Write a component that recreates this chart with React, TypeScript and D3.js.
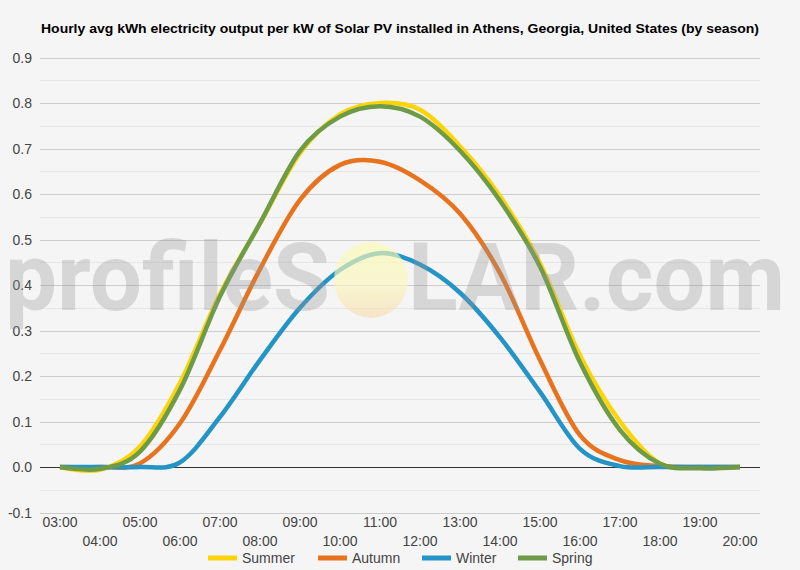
import React, { FC, useEffect, useRef } from 'react';
import { select, scalePoint, scaleLinear, line, curveCatmullRom, range } from 'd3';

const hours = [
  '03:00', '04:00', '05:00', '06:00', '07:00', '08:00', '09:00', '10:00', '11:00',
  '12:00', '13:00', '14:00', '15:00', '16:00', '17:00', '18:00', '19:00', '20:00'
];

const summer = [0, -0.006, 0.045, 0.185, 0.38, 0.535, 0.69, 0.775, 0.8, 0.785, 0.705, 0.595, 0.448, 0.245, 0.1, 0.008, 0, 0];
const autumn = [0, 0, 0.008, 0.096, 0.257, 0.435, 0.587, 0.664, 0.671, 0.63, 0.557, 0.426, 0.235, 0.07, 0.015, 0.002, 0, 0];
const winter = [0, 0, 0, 0.01, 0.11, 0.235, 0.35, 0.433, 0.47, 0.445, 0.383, 0.285, 0.165, 0.04, 0.002, 0, 0, 0];
const spring = [0, -0.004, 0.034, 0.17, 0.375, 0.536, 0.695, 0.77, 0.793, 0.77, 0.695, 0.585, 0.44, 0.23, 0.081, 0.007, -0.003, 0];

const seriesNames = ['Summer', 'Autumn', 'Winter', 'Spring'];
const seriesValues = [summer, autumn, winter, spring];
const seriesColors = ['#fdd408', '#e8731f', '#2494c6', '#6d9b48'];

const yTicks = [-0.1, 0, 0.1, 0.2, 0.3, 0.4, 0.5, 0.6, 0.7, 0.8, 0.9];

const title =
  'Hourly avg kWh electricity output per kW of Solar PV installed in Athens, Georgia, United States (by season)';

const width = 800;
const height = 570;
const font = 'Arial, "Liberation Sans", sans-serif';
const markFont = 'Roboto, "Liberation Sans", sans-serif';

const Chart: FC = () => {
  const ref = useRef<SVGSVGElement>(null);

  useEffect(() => {
    const svg = select(ref.current);
    svg.selectAll('*').remove();

    const margin = { top: 57.5, right: 40, bottom: 57.5, left: 40 };

    const x = scalePoint<string>()
      .domain(hours)
      .range([margin.left, width - margin.right])
      .padding(0.5);

    const y = scaleLinear()
      .domain([-0.1, 0.9])
      .range([height - margin.bottom, margin.top]);

    svg.append('rect').attr('width', width).attr('height', height).attr('fill', '#f5f5f5');

    // title
    svg
      .append('text')
      .attr('x', 41)
      .attr('y', 33)
      .attr('font-family', font)
      .attr('font-size', 13)
      .attr('font-weight', 'bold')
      .attr('fill', '#000')
      .attr('textLength', 718)
      .attr('lengthAdjust', 'spacingAndGlyphs')
      .text(title);

    // gridlines: minor every 0.05, major every 0.1
    const minor = range(-0.05, 0.9, 0.1);
    svg
      .append('g')
      .selectAll('line')
      .data(minor)
      .enter()
      .append('line')
      .attr('x1', margin.left)
      .attr('x2', width - margin.right)
      .attr('y1', (d) => Math.round(y(d)) + 0.5)
      .attr('y2', (d) => Math.round(y(d)) + 0.5)
      .attr('stroke', '#e6e6e6');

    svg
      .append('g')
      .selectAll('line')
      .data(yTicks.filter((d) => d !== 0))
      .enter()
      .append('line')
      .attr('x1', margin.left)
      .attr('x2', width - margin.right)
      .attr('y1', (d) => Math.round(y(d)) + 0.5)
      .attr('y2', (d) => Math.round(y(d)) + 0.5)
      .attr('stroke', '#cccccc');

    svg
      .append('line')
      .attr('x1', margin.left)
      .attr('x2', width - margin.right)
      .attr('y1', Math.round(y(0)) + 0.5)
      .attr('y2', Math.round(y(0)) + 0.5)
      .attr('stroke', '#333');

    // y labels
    svg
      .append('g')
      .selectAll('text')
      .data(yTicks)
      .enter()
      .append('text')
      .attr('x', 32)
      .attr('y', (d) => y(d) + 5)
      .attr('text-anchor', 'end')
      .attr('font-family', font)
      .attr('font-size', 14)
      .attr('fill', '#444')
      .text((d) => d.toFixed(1));

    // x labels, staggered on two rows
    svg
      .append('g')
      .selectAll('text')
      .data(hours)
      .enter()
      .append('text')
      .attr('x', (d) => x(d) as number)
      .attr('y', (d, i) => (i % 2 === 0 ? 527 : 546))
      .attr('text-anchor', 'middle')
      .attr('font-family', font)
      .attr('font-size', 14)
      .attr('fill', '#444')
      .text((d) => d);

    // series
    const path = line<number>()
      .x((d, i) => x(hours[i]) as number)
      .y((d) => y(d))
      .curve(curveCatmullRom.alpha(0));

    svg
      .append('g')
      .selectAll('path')
      .data(seriesValues)
      .enter()
      .append('path')
      .attr('d', (d) => path(d))
      .attr('fill', 'none')
      .attr('stroke', (d, i) => seriesColors[i])
      .attr('stroke-width', 4.5)
      .attr('stroke-linejoin', 'round');

    // watermark on top of the lines
    const defs = svg.append('defs');
    const grad = defs
      .append('linearGradient')
      .attr('id', 'sun')
      .attr('x1', 0)
      .attr('y1', 0)
      .attr('x2', 0)
      .attr('y2', 1);
    grad.append('stop').attr('offset', '0%').attr('stop-color', '#fbfbb0');
    grad.append('stop').attr('offset', '55%').attr('stop-color', '#fbf6bc');
    grad.append('stop').attr('offset', '100%').attr('stop-color', '#f7dbb0');

    const mark = svg.append('g').attr('pointer-events', 'none');
    mark
      .append('ellipse')
      .attr('cx', 371)
      .attr('cy', 280)
      .attr('rx', 37)
      .attr('ry', 38)
      .attr('fill', 'url(#sun)')
      .attr('opacity', 0.65);

    mark
      .append('text')
      .attr('x', 5)
      .attr('y', 310)
      .attr('font-family', markFont)
      .attr('font-weight', 700)
      .attr('font-size', 94)
      .attr('fill', 'rgba(150,150,150,0.32)')
      .attr('textLength', 325)
      .attr('lengthAdjust', 'spacingAndGlyphs')
      .text('profileS');

    mark
      .append('text')
      .attr('x', 408)
      .attr('y', 310)
      .attr('font-family', markFont)
      .attr('font-weight', 700)
      .attr('font-size', 94)
      .attr('fill', 'rgba(150,150,150,0.32)')
      .attr('textLength', 377)
      .attr('lengthAdjust', 'spacingAndGlyphs')
      .text('LAR.com');

    // legend
    const legendX = [208, 318, 422, 518];
    const legend = svg.append('g');
    legend
      .selectAll('line')
      .data(seriesNames)
      .enter()
      .append('line')
      .attr('x1', (d, i) => legendX[i])
      .attr('x2', (d, i) => legendX[i] + 29)
      .attr('y1', 558)
      .attr('y2', 558)
      .attr('stroke', (d, i) => seriesColors[i])
      .attr('stroke-width', 5);

    legend
      .selectAll('text')
      .data(seriesNames)
      .enter()
      .append('text')
      .attr('x', (d, i) => legendX[i] + 34)
      .attr('y', 563)
      .attr('font-family', font)
      .attr('font-size', 14)
      .attr('fill', '#444')
      .text((d) => d);
  }, []);

  return (
    <svg
      ref={ref}
      width={width}
      height={height}
      style={{ position: 'absolute', left: 0, top: 0, display: 'block' }}
    />
  );
};

const App: FC = () => <Chart />;

export default App;
